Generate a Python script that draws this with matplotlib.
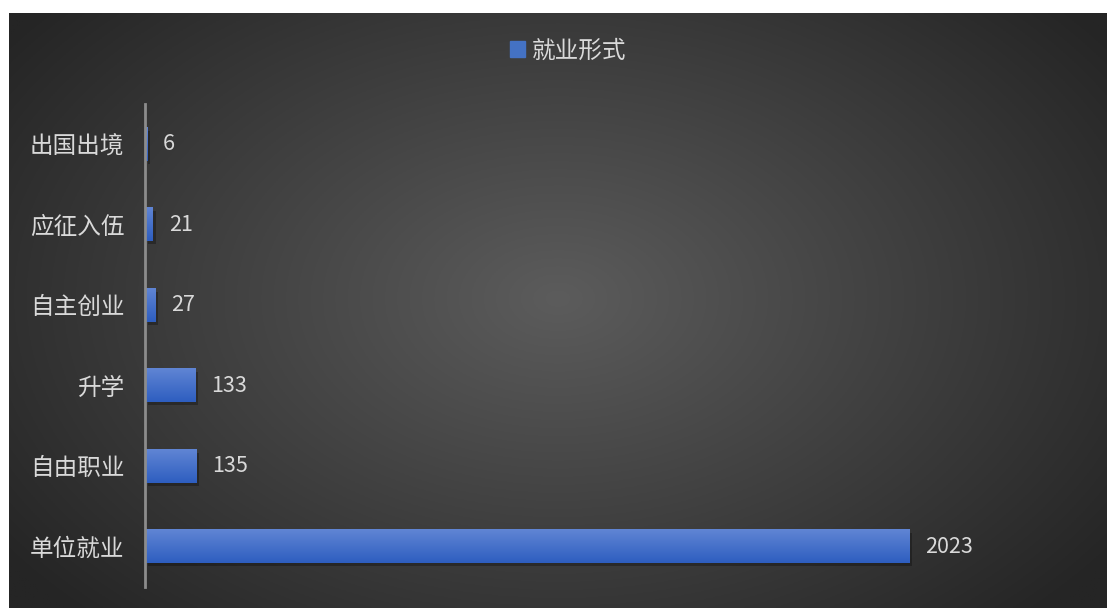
import numpy as np
import matplotlib.pyplot as plt
import matplotlib.patheffects as pe
from matplotlib.patches import Rectangle

plt.rcParams['font.family'] = ['Noto Sans CJK SC', 'DejaVu Sans']

categories = ['单位就业', '自由职业', '升学', '自主创业', '应征入伍', '出国出境']
values = [2023, 135, 133, 27, 21, 6]
series_name = '就业形式'

W, H = 1107, 608
fig = plt.figure(figsize=(W / 100, H / 100), dpi=100)
fig.patch.set_facecolor('white')

# dark radial background (Excel style), leaving white strip top/left
bg = fig.add_axes([9 / W, 0, 1 - 9 / W, 1 - 13 / H])
bg.set_axis_off()
yy, xx = np.mgrid[0:1:300j, 0:1:600j]
r = np.sqrt(((xx - 0.5) / 0.62) ** 2 + ((yy - 0.52) / 0.75) ** 2)
r = np.clip(r, 0, 1)
c0, c1 = 0x5c / 255, 0x25 / 255
shade = c0 + (c1 - c0) * r
bg.imshow(np.dstack([shade] * 3), extent=[0, 1, 0, 1], aspect='auto', origin='lower')
bg.set_xlim(0, 1)
bg.set_ylim(0, 1)

ax = fig.add_axes([145 / W, (H - 587) / H, (1090 - 145) / W, (587 - 104) / H])
ax.patch.set_alpha(0)

y = np.arange(len(categories))
bh = 0.41
bars = ax.barh(y, values, height=bh, color='#4472c4', zorder=2, label=series_name,
               path_effects=[pe.SimplePatchShadow(offset=(2, -2), shadow_rgbFace='black', alpha=0.28),
                             pe.Normal()])

grad = np.linspace(0, 1, 64).reshape(-1, 1)
top = np.array([0x60, 0x85, 0xd4]) / 255
bot = np.array([0x2e, 0x5e, 0xc0]) / 255
img = top + (bot - top) * grad[..., None]
for yi, v in zip(y, values):
    ax.imshow(img, extent=[0, v, yi - bh / 2, yi + bh / 2], aspect='auto', origin='upper', zorder=3)
    ax.text(v + 42, yi, str(v), va='center', ha='left', color='#d9d9d9', fontsize=15.5, zorder=4)

ax.set_xlim(0, 2500)
ax.set_ylim(-0.5, len(categories) - 0.5)
ax.set_yticks(y)
ax.set_yticklabels(categories, color='#d9d9d9', fontsize=17, fontweight='light')
ax.tick_params(axis='y', length=0, pad=15)
ax.set_xticks([])
for s in ['top', 'right', 'bottom']:
    ax.spines[s].set_visible(False)
ax.spines['left'].set_color('#8c8c8c')
ax.spines['left'].set_linewidth(2)
ax.spines['left'].set_zorder(5)

handle = Rectangle((0, 0), 1, 1, color='#4472c4')
leg = fig.legend([handle], [series_name], loc='center', bbox_to_anchor=(568 / W, 1 - 51 / H),
                 frameon=False, fontsize=17, handlelength=0.65, handleheight=0.65,
                 handletextpad=0.3, labelcolor='#d9d9d9', prop={'weight': 'light', 'size': 17})

fig.savefig('out.png', dpi=100, facecolor=fig.get_facecolor())
